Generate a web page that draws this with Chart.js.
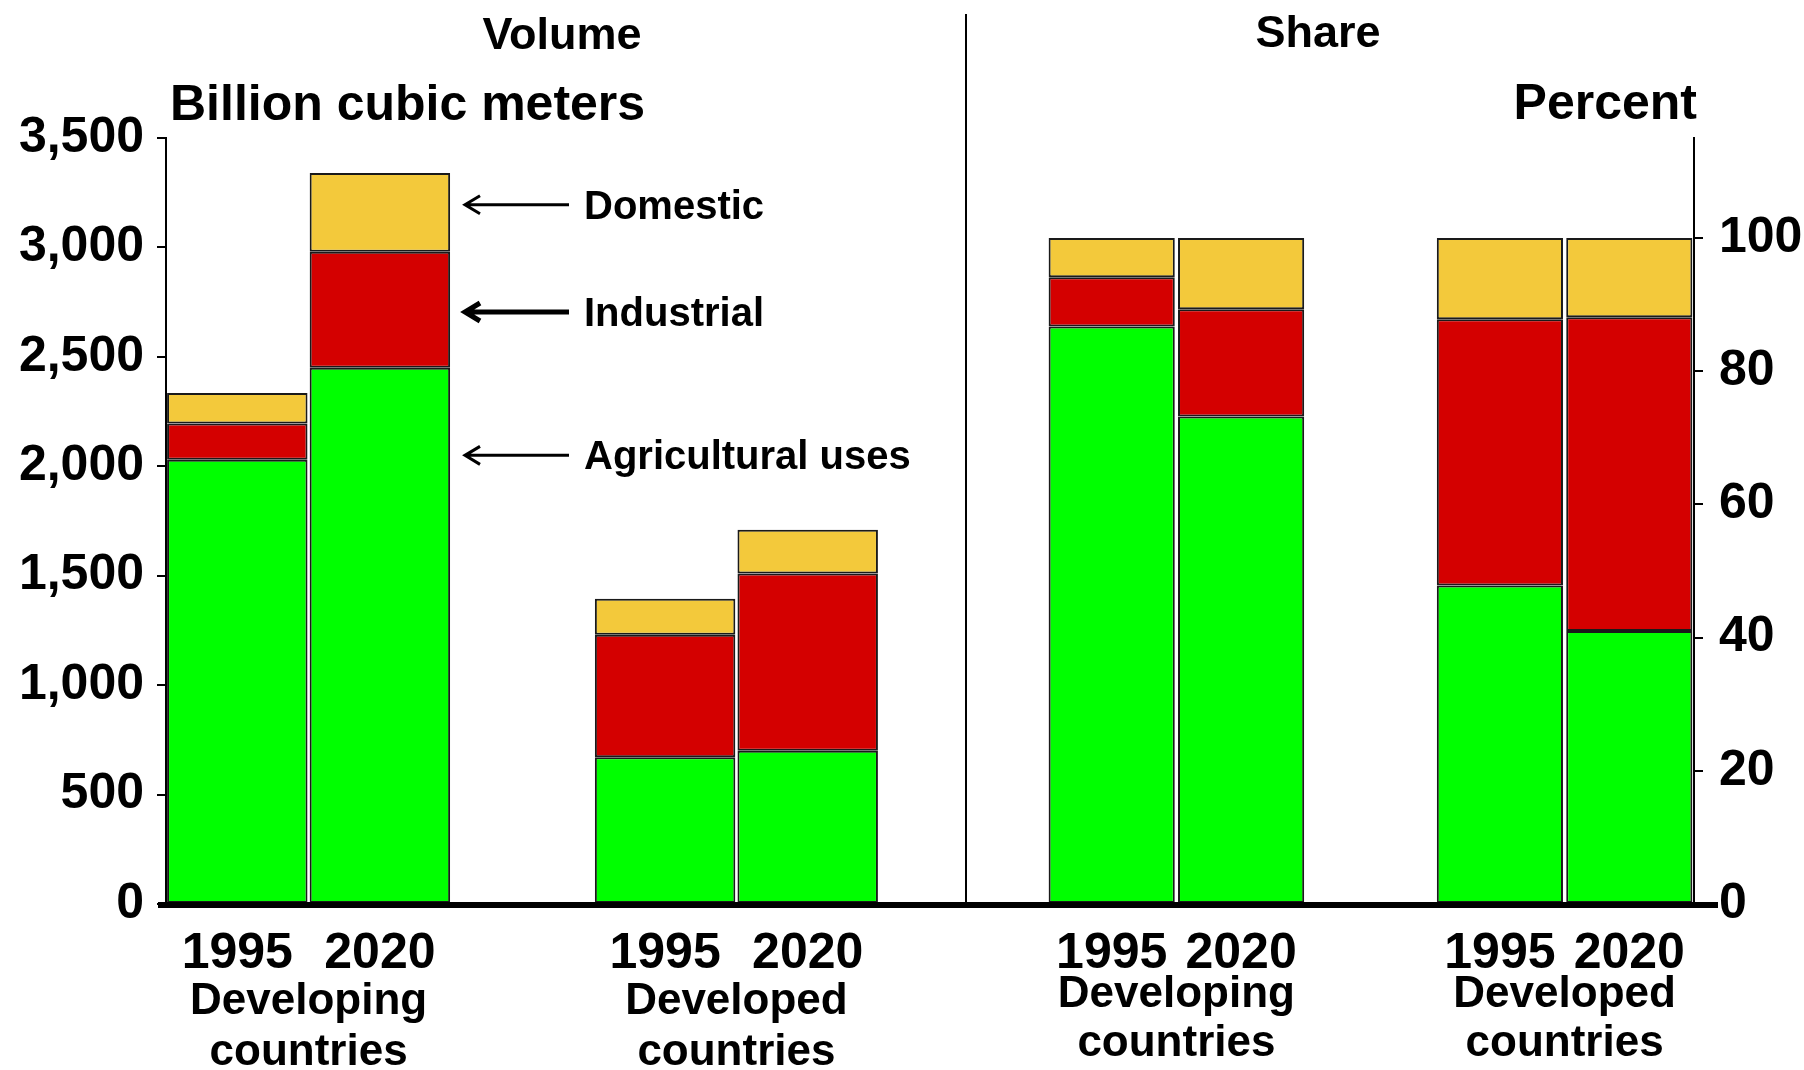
<!DOCTYPE html>
<html>
<head>
<meta charset="utf-8">
<script src="https://cdn.jsdelivr.net/npm/chart.js@4"></script>
<style>
  html, body { margin: 0; padding: 0; background: #fff; }
  #wrap { position: relative; width: 1804px; height: 1070px; }
  #volWrap { position: absolute; left: 0; top: 0; width: 965px; height: 1070px; }
  #shareWrap { position: absolute; left: 965px; top: 0; width: 839px; height: 1070px; }
</style>
</head>
<body>
<div id="wrap">
  <div id="volWrap"><canvas id="volChart"></canvas></div>
  <div id="shareWrap"><canvas id="shareChart"></canvas></div>
</div>
<script>
// slots: developing 1995, 2020, gap, developed 1995, 2020
const years = ['1995', '2020', '', '1995', '2020'];
const groups = [['Developing', 'countries'], ['Developed', 'countries']];

// Billion cubic meters
const volAgri = [2030, 2450, null, 670, 700];
const volInd = [165, 530, null, 560, 810];
const volDom = [140, 360, null, 165, 200];

// Percent
const shareAgri = [86.7, 73.2, null, 47.8, 41.0];
const shareInd = [7.4, 16.1, null, 40.0, 47.1];
const shareDom = [5.9, 10.7, null, 12.2, 11.9];

const volTicks = [0, 500, 1000, 1500, 2000, 2500, 3000, 3500];
const shareTicks = [0, 20, 40, 60, 80, 100];

const arrowLabels = ['Domestic', 'Industrial', 'Agricultural uses'];
const arrowAt = [3195, 2705, 2050];

const FONT = '"Liberation Sans", Arial, sans-serif';
const GREEN = '#00FF00', RED = '#D40000', YELLOW = '#F3C93B';

function bars(agri, ind, dom) {
    const common = { borderWidth: 2, borderColor: '#1a1a1a', borderSkipped: false };
    return [
        { label: 'Agricultural uses', data: agri, backgroundColor: GREEN, ...common },
        { label: 'Industrial', data: ind, backgroundColor: RED, ...common },
        { label: 'Domestic', data: dom, backgroundColor: YELLOW, ...common }
    ];
}

function drawGroups(chart, y1, y2) {
    const ctx = chart.ctx, x = chart.scales.x;
    ctx.font = 'bold 44px ' + FONT;
    ctx.fillStyle = '#000';
    ctx.textAlign = 'center';
    ctx.textBaseline = 'middle';
    [[0, 1], [3, 4]].forEach((p, i) => {
        const cx = (x.getPixelForValue(p[0]) + x.getPixelForValue(p[1])) / 2;
        ctx.fillText(groups[i][0], cx, y1);
        ctx.fillText(groups[i][1], cx, y2);
    });
}

function baseline(chart, x0, x1) {
    const ctx = chart.ctx, y = chart.scales.y;
    const py = y.getPixelForValue(0) + 1;
    ctx.save();
    ctx.strokeStyle = '#000';
    ctx.lineWidth = 6;
    ctx.beginPath();
    ctx.moveTo(x0, py);
    ctx.lineTo(x1, py);
    ctx.stroke();
    ctx.restore();
}

const volExtras = {
    id: 'volExtras',
    afterDraw(chart) {
        const ctx = chart.ctx, y = chart.scales.y;
        baseline(chart, 158, chart.width);
        ctx.save();
        ctx.fillStyle = '#000';
        ctx.font = 'bold 45px ' + FONT;
        ctx.textAlign = 'center';
        ctx.textBaseline = 'middle';
        ctx.fillText('Volume', 562, 37);
        ctx.font = 'bold 50px ' + FONT;
        ctx.textAlign = 'left';
        ctx.textBaseline = 'alphabetic';
        ctx.fillText('Billion cubic meters', 170, 120);

        // arrows pointing at the 2020 developing bar
        ctx.strokeStyle = '#000';
        ctx.font = 'bold 40px ' + FONT;
        ctx.textBaseline = 'middle';
        arrowLabels.forEach((t, i) => {
            const py = y.getPixelForValue(arrowAt[i]);
            ctx.lineWidth = i === 1 ? 5 : 3;
            ctx.beginPath();
            ctx.moveTo(569, py);
            ctx.lineTo(466, py);
            ctx.moveTo(480, py - 9);
            ctx.lineTo(465, py);
            ctx.lineTo(480, py + 9);
            ctx.stroke();
            ctx.fillText(t, 584, py + 3);
        });
        drawGroups(chart, 1002, 1053);
        ctx.restore();
    }
};

const shareExtras = {
    id: 'shareExtras',
    afterDraw(chart) {
        const ctx = chart.ctx;
        baseline(chart, 0, chart.chartArea.right + 24);
        ctx.save();
        ctx.strokeStyle = '#000';
        ctx.lineWidth = 2;
        ctx.beginPath();
        ctx.moveTo(1, 14);
        ctx.lineTo(1, chart.scales.y.getPixelForValue(0));
        ctx.stroke();
        ctx.fillStyle = '#000';
        ctx.font = 'bold 45px ' + FONT;
        ctx.textAlign = 'center';
        ctx.textBaseline = 'middle';
        ctx.fillText('Share', 353, 35);
        ctx.font = 'bold 50px ' + FONT;
        ctx.textAlign = 'right';
        ctx.textBaseline = 'alphabetic';
        ctx.fillText('Percent', 732, 119);
        drawGroups(chart, 995, 1044);
        ctx.restore();
    }
};

function xAxis() {
    return {
        stacked: true,
        grid: { display: false, drawTicks: false },
        border: { display: false },
        ticks: {
            color: '#000', padding: 20, autoSkip: false, maxRotation: 0,
            font: { family: FONT, size: 50, weight: 'bold' }
        },
        afterFit(s) { s.height = 166; }
    };
}

function yAxis(pos, max, ticks, width, pad) {
    return {
        position: pos,
        stacked: true,
        min: 0,
        max: max,
        grid: { drawOnChartArea: false, drawTicks: true, tickLength: 9, color: '#000', lineWidth: 2 },
        border: { display: true, color: '#000', width: 2 },
        ticks: { color: '#000', padding: pad, font: { family: FONT, size: 50, weight: 'bold' } },
        afterBuildTicks(s) { s.ticks = ticks.map(v => ({ value: v })); },
        afterFit(s) { s.width = width; }
    };
}

Chart.defaults.font.family = FONT;

new Chart(document.getElementById('volChart'), {
    type: 'bar',
    data: { labels: years, datasets: bars(volAgri, volInd, volDom) },
    options: {
        responsive: true,
        maintainAspectRatio: false,
        animation: false,
        layout: { padding: { top: 138, right: 86, left: 0, bottom: 0 } },
        datasets: { bar: { barPercentage: 1, categoryPercentage: 0.985 } },
        plugins: { legend: { display: false }, tooltip: { enabled: false } },
        scales: { x: xAxis(), y: yAxis('left', 3500, volTicks, 166, 13) }
    },
    plugins: [volExtras]
});

new Chart(document.getElementById('shareChart'), {
    type: 'bar',
    data: { labels: years, datasets: bars(shareAgri, shareInd, shareDom) },
    options: {
        responsive: true,
        maintainAspectRatio: false,
        animation: false,
        layout: { padding: { top: 138, right: 0, left: 82, bottom: 0 } },
        datasets: { bar: { barPercentage: 1, categoryPercentage: 0.975 } },
        plugins: { legend: { display: false }, tooltip: { enabled: false } },
        scales: { x: xAxis(), y: yAxis('right', 115, shareTicks, 110, 16) }
    },
    plugins: [shareExtras]
});
</script>
</body>
</html>
